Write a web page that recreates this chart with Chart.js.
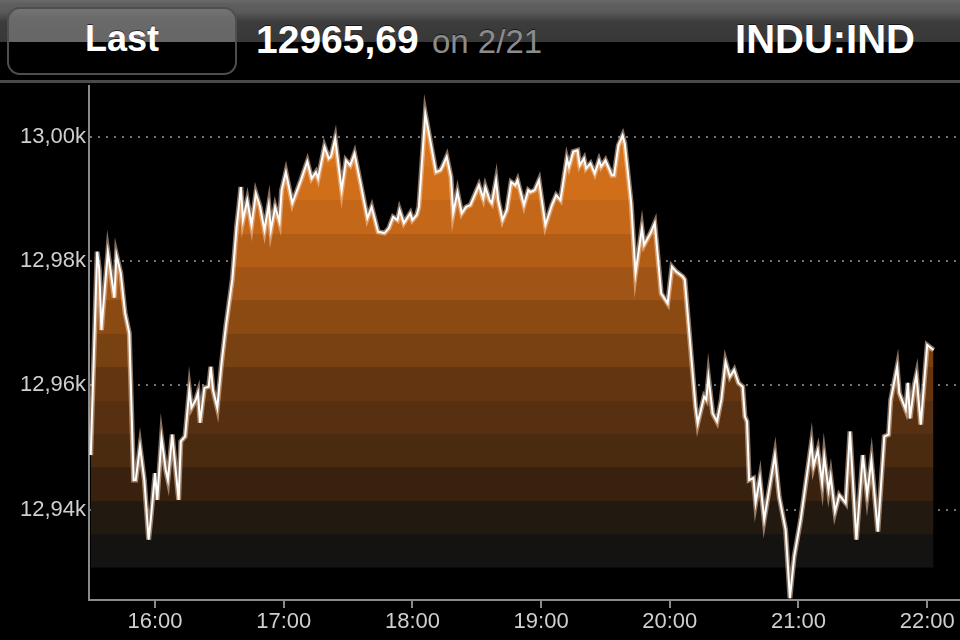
<!DOCTYPE html>
<html>
<head>
<meta charset="utf-8">
<script src="https://cdn.jsdelivr.net/npm/chart.js@4/dist/chart.umd.min.js"></script>
<style>
  html, body { margin: 0; padding: 0; background: #000; }
  body { width: 960px; height: 640px; position: relative; overflow: hidden; font-family: "Liberation Sans", Arial, Helvetica, sans-serif; }
  #chart { position: absolute; left: 0; top: 0; }
  #hdr { position: absolute; left: 0; top: 0; width: 960px; height: 85px; z-index: 2;
    background: linear-gradient(to bottom, #6a6a6a 0px, #5f5f5f 4px, #5a5a5a 12px, #3c3c3c 22px, #383838 42px, #000 42px, #000 80px, #4a4a4a 80px, #4a4a4a 83px, #000 83px); }
  #btn { position: absolute; left: 7px; top: 7px; width: 226px; height: 64px; border-radius: 13px;
    border: 2px solid #4e4e4e; background: linear-gradient(to bottom, #747474 0px, #6a6a6a 10px, #666 33px, #000 33px, #000 100%); }
  .t { position: absolute; line-height: 1; white-space: nowrap; text-shadow: 0 -1px 0 rgba(0,0,0,0.6); }
  #last { left: 7px; width: 230px; text-align: center; top: 21px; font-size: 36px; font-weight: bold; color: #fff; }
  #price { left: 256px; top: 20px; font-size: 39px; font-weight: bold; color: #fff; }
  #on { left: 432px; top: 25px; font-size: 33px; color: #8c8c8c; }
  #sym { right: 45px; top: 19px; font-size: 40px; font-weight: bold; color: #fff; }
</style>
</head>
<body>
<canvas id="chart" width="960" height="640"></canvas>
<div id="hdr">
  <div id="btn"></div>
  <div class="t" id="last">Last</div>
  <div class="t" id="price">12965,69</div>
  <div class="t" id="on">on 2/21</div>
  <div class="t" id="sym">INDU:IND</div>
</div>
<script>
const times = ['15:30','15:33','15:34','15:35','15:36','15:38','15:39','15:41','15:42','15:44','15:46','15:48','15:50','15:51','15:53','15:55','15:57','15:58',
'16:00','16:01','16:03','16:05','16:06','16:08','16:11','16:12','16:14','16:16','16:17','16:19','16:20','16:21','16:23','16:25','16:26','16:27','16:29','16:31','16:33','16:36','16:38','16:39','16:40','16:41','16:43','16:45','16:47','16:49','16:51','16:53','16:54','16:56','16:58','16:59',
'17:01','17:04','17:08','17:11','17:13','17:15','17:16','17:19','17:21','17:22','17:24','17:27','17:29','17:31','17:33','17:36','17:39','17:41','17:44','17:47','17:49','17:51','17:53','17:54','17:56','17:59',
'18:00','18:02','18:03','18:06','18:08','18:11','18:13','18:14','18:16','18:18','18:19','18:21','18:23','18:25','18:27','18:29','18:31','18:33','18:34','18:36','18:37','18:39','18:40','18:42','18:44','18:46','18:48','18:49','18:52','18:54','18:55','18:57','18:59',
'19:02','19:05','19:07','19:09','19:12','19:13','19:15','19:17','19:18','19:20','19:21','19:23','19:25','19:27','19:28','19:30','19:31','19:33','19:34','19:36','19:38','19:39','19:42','19:44','19:47','19:48','19:51','19:53','19:56','19:59',
'20:01','20:03','20:06','20:07','20:12','20:13','20:16','20:17','20:18','20:20','20:22','20:24','20:26','20:28','20:30','20:32','20:34','20:35','20:36','20:37','20:39','20:40','20:42','20:44','20:49','20:51','20:54','20:56','20:58',
'21:01','21:06','21:07','21:09','21:11','21:12','21:14','21:15','21:17','21:19','21:22','21:24','21:27','21:30','21:32','21:34','21:37','21:40','21:42','21:43','21:46','21:47','21:50','21:51','21:52','21:54','21:55','21:57',
'22:00','22:03'];

const values = [12948.8,12981.5,12978.6,12968.9,12973.3,12981.5,12979.1,12974.1,12981.0,12978.1,12971.7,12968.4,12944.8,12944.8,12950.2,12944.8,12935.2,12938.4,
12945.9,12941.6,12951.6,12946.4,12944.8,12952.1,12941.6,12951.0,12951.8,12959.3,12956.4,12957.7,12958.8,12954.0,12959.6,12959.8,12963.0,12959.3,12956.4,12963.6,12969.5,12977.0,12985.5,12988.5,12991.9,12986.6,12989.8,12985.8,12990.9,12988.7,12985.0,12989.1,12985.0,12988.7,12986.3,12991.4,
12994.3,12989.3,12993.0,12996.0,12993.3,12994.3,12993.3,12998.4,12996.5,12996.8,12999.7,12991.4,12996.2,12995.4,12997.3,12992.2,12986.9,12988.7,12984.7,12984.5,12985.3,12987.1,12986.6,12988.2,12986.1,12987.7,
12986.6,12987.4,12988.7,13003.7,13000.0,12994.3,12994.6,12995.2,12996.8,12993.5,12987.7,12991.1,12987.7,12988.7,12989.0,12990.6,12992.2,12990.1,12991.9,12989.8,12989.3,12993.0,12989.8,12986.6,12988.2,12992.7,12992.2,12993.0,12989.0,12991.4,12991.1,12991.4,12993.0,
12985.8,12989.0,12990.6,12989.8,12996.5,12995.2,12997.6,12997.8,12995.4,12996.5,12994.9,12995.7,12994.1,12996.2,12995.2,12996.2,12995.4,12993.8,12993.8,12998.6,13000.2,12998.9,12989.3,12978.0,12985.3,12982.6,12984.5,12986.1,12974.8,12973.2,
12979.1,12978.3,12977.5,12977.0,12956.6,12953.9,12958.2,12957.7,12961.4,12955.5,12954.2,12957.7,12963.8,12961.4,12962.5,12960.4,12959.8,12955.0,12954.2,12944.8,12945.1,12941.1,12945.1,12938.4,12948.8,12942.1,12936.8,12925.8,12932.5,
12938.4,12950.7,12947.0,12949.6,12944.3,12948.6,12943.2,12945.4,12939.7,12942.4,12941.1,12952.6,12935.2,12948.8,12942.4,12948.0,12936.5,12951.8,12952.1,12957.7,12963.0,12958.8,12956.1,12960.4,12954.7,12960.1,12961.7,12953.7,
12966.5,12965.69];

const yTickValues = [12940, 12960, 12980, 13000];
const yTickLabels = ['12,94k', '12,96k', '12,98k', '13,00k'];
const xTickLabels = ['16:00', '17:00', '18:00', '19:00', '20:00', '21:00', '22:00'];
const fillBaseValue = 12930.7;

function toMin(s) { const p = s.split(':'); return (+p[0]) * 60 + (+p[1]); }
const xTickValues = xTickLabels.map(toMin);
const points = times.map((t, i) => ({ x: toMin(t), y: values[i] }));

const bandColors = ['#141311','#221911','#38220f','#4a2b0f','#563010','#633611','#784112','#8c4a13','#a05415','#b25d16','#c46718','#d06e19','#d5721a','#d8741b'];

function fillGradient(ctx) {
  const chart = ctx.chart;
  const area = chart.chartArea;
  if (!area) return '#a05415';
  const ys = chart.scales.y;
  const bottom = ys.getPixelForValue(fillBaseValue);
  const band = 33.4;
  const top = bottom - band * bandColors.length;
  const g = chart.ctx.createLinearGradient(0, bottom, 0, top);
  const n = bandColors.length;
  for (let i = 0; i < n; i++) {
    g.addColorStop(i / n, bandColors[i]);
    g.addColorStop(Math.min(1, (i + 1) / n - 0.0001), bandColors[i]);
  }
  return g;
}

const font = { family: '"Liberation Sans", Arial, Helvetica, sans-serif', size: 22 };

new Chart(document.getElementById('chart'), {
  type: 'line',
  data: {
    datasets: [
      {
        data: points,
        borderColor: '#ffffff',
        borderWidth: 2,
        pointRadius: 0,
        tension: 0,
        fill: false,
        order: 0
      },
      {
        data: points,
        borderColor: 'rgba(245,205,175,0.55)',
        borderWidth: 5,
        pointRadius: 0,
        tension: 0,
        backgroundColor: fillGradient,
        fill: { target: { value: fillBaseValue }, below: 'rgba(0,0,0,0)' },
        order: 1
      }
    ]
  },
  options: {
    responsive: false,
    animation: false,
    devicePixelRatio: 1,
    events: [],
    layout: { padding: { top: 85, left: 0, right: 0, bottom: 0 } },
    plugins: { legend: { display: false }, tooltip: { enabled: false } },
    scales: {
      x: {
        type: 'linear',
        min: 929.2,
        max: 1335.3,
        afterBuildTicks: s => { s.ticks = xTickValues.map(v => ({ value: v })); },
        afterFit: s => { s.height = 40; },
        ticks: {
          autoSkip: false, maxRotation: 0, padding: 1, color: '#cfcfcf', font,
          callback: (v, i) => xTickLabels[i]
        },
        grid: { drawOnChartArea: false, drawTicks: true, tickLength: 8, color: '#8a8a8a', lineWidth: 2 },
        border: { display: true, color: '#8a8a8a', width: 2 }
      },
      y: {
        type: 'linear',
        min: 12925.5,
        max: 13008.3,
        z: 1,
        afterBuildTicks: s => { s.ticks = yTickValues.map(v => ({ value: v })); },
        afterFit: s => { s.width = 89; },
        ticks: {
          padding: 3, color: '#cfcfcf', font,
          callback: (v, i) => yTickLabels[i]
        },
        grid: { drawTicks: false, color: 'rgba(255,255,255,0.45)', lineWidth: 2 },
        border: { display: true, color: '#8a8a8a', width: 2, dash: [2, 6] }
      }
    }
  }
});
</script>
</body>
</html>
